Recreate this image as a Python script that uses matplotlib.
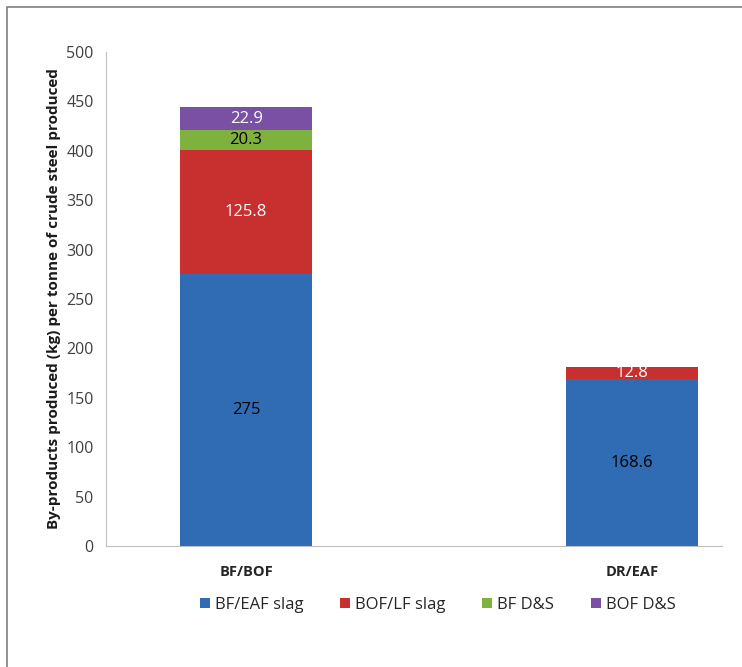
import matplotlib.pyplot as plt
from matplotlib.patches import Rectangle, Patch

plt.rcParams['font.family'] = ['Open Sans', 'DejaVu Sans']

routes = ['BF/BOF', 'DR/EAF']
series = ['BF/EAF slag', 'BOF/LF slag', 'BF D&S', 'BOF D&S']
values = {
    'BF/EAF slag': [275, 168.6],
    'BOF/LF slag': [125.8, 12.8],
    'BF D&S': [20.3, 0],
    'BOF D&S': [22.9, 0],
}
colors = ['#2f6cb3', '#c8302f', '#7fb13f', '#7a50a4']
label_colors = ['black', 'white', 'black', 'white']

fig = plt.figure(figsize=(7.42, 6.67), dpi=100)
ax = fig.add_axes([0.1429, 0.1814, 0.8301, 0.7406])

# outer frame (only left/top edges visible in the original)
fig.patches.append(Rectangle((7 / 742, -0.2), 1.2, 1.2 - 7 / 667,
                             transform=fig.transFigure, fill=False,
                             edgecolor='#7f7f7f', linewidth=1.2))

x = list(range(len(routes)))
bottom = [0.0] * len(routes)
for name, c, lc in zip(series, colors, label_colors):
    vals = values[name]
    ax.bar(x, vals, width=0.342, bottom=bottom, color=c, label=name)
    for i, v in enumerate(vals):
        if v > 0:
            ax.text(x[i], bottom[i] + v / 2, f'{v:g}', ha='center', va='center',
                    color=lc, fontsize=12)
    bottom = [b + v for b, v in zip(bottom, vals)]

ax.set_xlim(-0.363, 1.233)
ax.set_ylim(0, 500)
ax.set_yticks(range(0, 501, 50))
ax.set_xticks(x)
ax.set_xticklabels(routes, fontweight='bold', fontsize=10.5, color='#262626')
ax.tick_params(axis='both', length=0)
ax.tick_params(axis='y', labelsize=11.5, colors='#404040', pad=9)
ax.tick_params(axis='x', pad=14)
for s in ['top', 'right']:
    ax.spines[s].set_visible(False)
for s in ['left', 'bottom']:
    ax.spines[s].set_color('#bfbfbf')
ax.set_ylabel('By-products produced (kg) per tonne of crude steel produced',
              fontweight='bold', fontsize=11, labelpad=4, color='#1a1a1a')

handles = [Patch(facecolor=c) for c in colors]
fig.legend(handles, series, loc='center', bbox_to_anchor=(0.59, 0.093), ncol=4,
           frameon=False, fontsize=12, handlelength=0.6, handleheight=0.6,
           handletextpad=0.3, columnspacing=2.2, labelcolor='#262626')

fig.savefig('out.png', dpi=100)
